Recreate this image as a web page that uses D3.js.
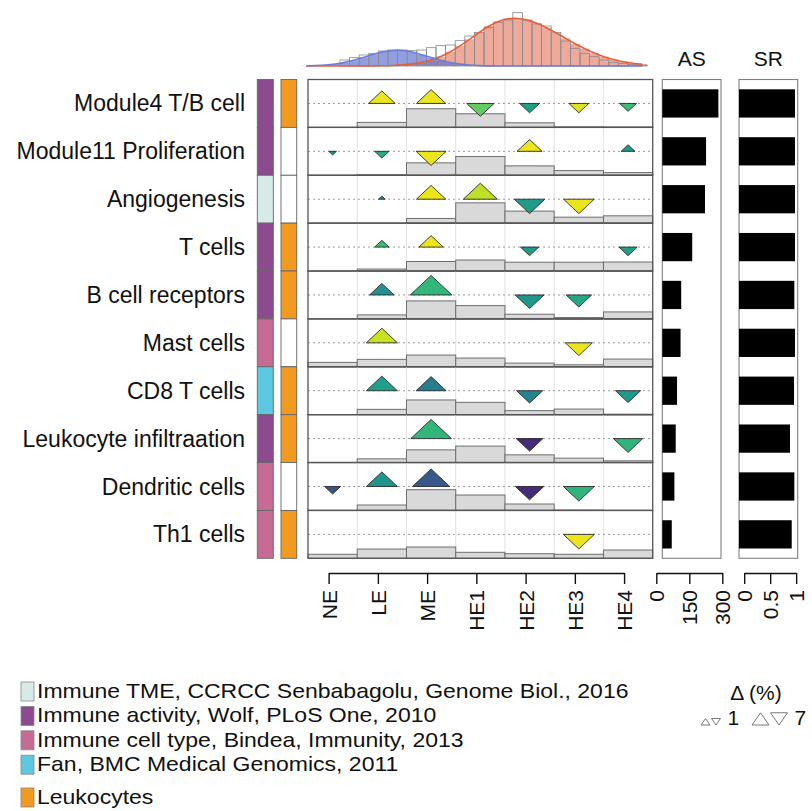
<!DOCTYPE html>
<html>
<head>
<meta charset="utf-8">
<script src="https://cdn.jsdelivr.net/npm/d3@7"></script>
<style>
  body { margin: 0; background: #fff; }
  svg text { font-family: "Liberation Sans", Arial, Helvetica, sans-serif; fill: #111; }
</style>
</head>
<body>
<svg id="chart" width="812" height="811"></svg>
<script>
// ---- data ----
const signatures = ["Module4 T/B cell", "Module11 Proliferation", "Angiogenesis", "T cells",
  "B cell receptors", "Mast cells", "CD8 T cells", "Leukocyte infiltraation", "Dendritic cells", "Th1 cells"];
const groups = ["NE", "LE", "ME", "HE1", "HE2", "HE3", "HE4"];
const sources = ["Immune TME, CCRCC Senbabagolu, Genome Biol., 2016", "Immune activity, Wolf, PLoS One, 2010",
  "Immune cell type, Bindea, Immunity, 2013", "Fan, BMC Medical Genomics, 2011"];
const signatureSource = [1, 1, 0, 1, 1, 2, 3, 1, 2, 2];
const leukocyte = [1, 0, 0, 1, 1, 0, 1, 1, 0, 1];
const leukocyteLabel = "Leukocytes";

// share of samples (%) falling in each group, per signature
const groupShare = [
  [0, 10.4, 38.9, 28.4, 9.6, 1.0, 0.6],
  [0, 1.0, 25.9, 39.1, 19.6, 9.8, 5.6],
  [0, 0, 9.8, 42.4, 25.1, 12.5, 15.3],
  [0, 4.2, 19.9, 23.0, 18.4, 18.4, 18.8],
  [0, 8.4, 37.6, 27.8, 9.8, 2.7, 14.6],
  [9.2, 15.5, 24.5, 18.2, 7.7, 4.2, 16.1],
  [0, 11.1, 30.7, 25.7, 8.4, 11.7, 1.0],
  [0, 7.7, 26.5, 34.3, 16.1, 9.2, 3.6],
  [0, 11.3, 43.3, 32.2, 13.4, 0.6, 0],
  [8.4, 19.4, 23.6, 12.5, 9.6, 8.4, 17.3]
];

// shifts: [signature, group, delta (%), colour score]
const shifts = [
  [0, "LE", 5.5, 0.97], [0, "ME", 6.7, 0.97], [0, "HE1", -5.8, 0.76], [0, "HE2", -3.1, 0.57], [0, "HE3", -3.1, 0.95], [0, "HE4", -2.2, 0.68],
  [1, "NE", -0.46, 0.55], [1, "LE", -1.6, 0.62], [1, "ME", -7.0, 0.97], [1, "HE2", 4.9, 0.97], [1, "HE4", 1.5, 0.55],
  [2, "LE", 0.35, 0.5], [2, "ME", 6.7, 0.97], [2, "HE1", 9.0, 0.9], [2, "HE2", -7.3, 0.55], [2, "HE3", -7.3, 0.97],
  [3, "LE", 1.6, 0.68], [3, "ME", 4.6, 0.97], [3, "HE2", -2.6, 0.55], [3, "HE4", -2.6, 0.57],
  [4, "LE", 4.7, 0.5], [4, "ME", 13.5, 0.66], [4, "HE2", -6.5, 0.53], [4, "HE3", -5.1, 0.6],
  [5, "LE", 7.5, 0.92], [5, "HE3", -5.7, 0.97],
  [6, "LE", 7.5, 0.56], [6, "ME", 7.0, 0.42], [6, "HE2", -5.3, 0.45], [6, "HE4", -4.9, 0.55],
  [7, "ME", 12.9, 0.66], [7, "HE2", -5.5, 0.12], [7, "HE4", -6.7, 0.65],
  [8, "NE", -2.0, 0.25], [8, "LE", 7.5, 0.52], [8, "ME", 10.8, 0.27], [8, "HE2", -6.3, 0.12], [8, "HE3", -7.5, 0.65],
  [9, "HE3", -7.5, 0.97]
];

const asScore = [255, 199, 194, 136, 86, 83, 67, 61, 55, 43];
const srScore = [0.978, 0.978, 0.978, 0.978, 0.965, 0.978, 0.959, 0.882, 0.965, 0.915];
const asTicks = [0, 150, 300];
const srTicks = [0, 0.5, 1];

// score histogram (first bin index -4) with two fitted components
const histFirstBin = -4;
const histCounts = [0, 0, 0, 0, 18, 25, 33, 38, 45, 48, 48, 46, 48, 55, 61, 63, 76, 90, 101, 115, 130, 138, 160, 138,
  126, 120, 101, 75, 53, 38, 28, 18, 10, 8, 5, 3];
const fitLow = [0.5, 1.3, 2.8, 5.7, 10.5, 17.4, 26.1, 35.4, 43.2, 47.4, 47.1, 42.3, 34.2, 25.2, 16.5, 9.9, 5.4, 2.6,
  1.1, 0.45, 0.2, 0.1, 0, 0, 0, 0, 0, 0, 0, 0, 0, 0, 0, 0, 0, 0];
const fitHigh = [0, 0, 0, 0.1, 0.15, 0.25, 0.3, 0.45, 0.75, 1.6, 3.2, 6, 10.5, 17.7, 28.2, 42.3, 60, 79.8, 100.8, 120,
  134.7, 142.8, 143.4, 138.3, 128.7, 115.2, 99.6, 82.8, 66.3, 51.3, 38.4, 27.6, 19.2, 12.6, 8.1, 5.1];

const deltaLegend = [1, 7];

// ---- styles ----
const sourceColours = ["#d6ebe7", "#8c4a8f", "#c56b94", "#5ec8e0"];
const leukoColour = "#f29a1f";

// ---- drawing ----
const svg = d3.select("#chart");

const x = d3.scaleBand().domain(groups).range([308, 652.7]);
const y = d3.scaleBand().domain(d3.range(signatures.length)).range([79.5, 558.3]);
const rowH = y.bandwidth();
const bw = x.bandwidth();
const shareH = d3.scaleLinear().domain([0, 100]).range([0, rowH]);
const triW = d3.scaleSqrt().domain([0, 7]).range([0, 30]);
const asX = d3.scaleLinear().domain([0, 300]).range([662.3, 728.3]);
const srX = d3.scaleLinear().domain([-0.1, 1.03]).range([739, 797.7]);

function triangle(cx, cy, w, h, up) {
  const s = up ? -1 : 1;
  return `M${cx - w / 2},${cy}L${cx + w / 2},${cy}L${cx},${cy + s * h}Z`;
}

// histogram on top
const hx = d3.scaleLinear().domain([-4, 32]).range([301.6, 647.2]);
const hy = d3.scaleLinear().domain([0, 165]).range([66, 11]);
const bins = histCounts.map((c, i) => ({ i: i + histFirstBin, c, lo: fitLow[i], hi: fitHigh[i] }));
const hist = svg.append("g");
hist.selectAll("rect.bg").data(bins.filter(d => d.c > 0)).join("rect")
  .attr("x", d => hx(d.i)).attr("width", d => hx(d.i + 1) - hx(d.i))
  .attr("y", d => hy(d.c)).attr("height", d => hy(0) - hy(d.c)).attr("fill", "#fff");
hist.selectAll("rect.hi").data(bins).join("rect")
  .attr("x", d => hx(d.i)).attr("width", d => hx(d.i + 1) - hx(d.i))
  .attr("y", d => hy(d.hi)).attr("height", d => hy(0) - hy(d.hi))
  .attr("fill", "rgb(226,118,92)").attr("fill-opacity", 0.62);
hist.selectAll("rect.lo").data(bins).join("rect")
  .attr("x", d => hx(d.i)).attr("width", d => hx(d.i + 1) - hx(d.i))
  .attr("y", d => hy(d.lo)).attr("height", d => hy(0) - hy(d.lo))
  .attr("fill", "rgb(95,112,208)").attr("fill-opacity", 0.68);
hist.selectAll("rect.outline").data(bins.filter(d => d.c > 0)).join("rect")
  .attr("x", d => hx(d.i)).attr("width", d => hx(d.i + 1) - hx(d.i))
  .attr("y", d => hy(d.c)).attr("height", d => hy(0) - hy(d.c))
  .attr("fill", "none").attr("stroke", "#8a8a8a").attr("stroke-width", 0.8);
const fitLine = key => d3.line().x(d => hx(d.i + 0.5)).y(d => hy(d[key])).curve(d3.curveBasis)(bins);
hist.append("path").attr("d", fitLine("hi")).attr("fill", "none").attr("stroke", "#e5603f").attr("stroke-width", 1.6);
hist.append("path").attr("d", fitLine("lo")).attr("fill", "none").attr("stroke", "#6b7fd6").attr("stroke-width", 1.6);

// row labels
svg.append("g").selectAll("text").data(signatures).join("text")
  .attr("x", 245).attr("y", (d, i) => y(i) + rowH / 2).attr("dy", "0.35em")
  .attr("text-anchor", "end").style("font-size", "23px").text(d => d);

// annotation strips
const strips = svg.append("g");
strips.selectAll("rect.src").data(signatureSource).join("rect")
  .attr("x", 257.3).attr("width", 16).attr("y", (d, i) => y(i)).attr("height", rowH)
  .attr("fill", d => sourceColours[d]).attr("stroke", "#666").attr("stroke-width", 0.9);
strips.selectAll("rect.leu").data(leukocyte).join("rect")
  .attr("x", 281).attr("width", 15.7).attr("y", (d, i) => y(i)).attr("height", rowH)
  .attr("fill", d => d ? leukoColour : "#fff").attr("stroke", "#666").attr("stroke-width", 0.9);

// main panel rows
const rows = svg.append("g").selectAll("g").data(signatures).join("g")
  .attr("transform", (d, i) => `translate(0,${y(i)})`);
rows.selectAll("line.grid").data(groups.slice(1)).join("line")
  .attr("x1", g => x(g)).attr("x2", g => x(g)).attr("y1", 0).attr("y2", rowH)
  .attr("stroke", "#e2e2e2").attr("stroke-width", 1);
rows.selectAll("rect.share").data((d, i) => groupShare[i].map((v, j) => ({ g: groups[j], v }))).join("rect")
  .attr("x", d => x(d.g)).attr("width", bw)
  .attr("y", d => rowH - shareH(d.v)).attr("height", d => shareH(d.v))
  .attr("fill", "#d9d9d9").attr("stroke", "#6e6e6e").attr("stroke-width", 1);
rows.append("line").attr("x1", x.range()[0]).attr("x2", x.range()[1])
  .attr("y1", rowH / 2).attr("y2", rowH / 2)
  .attr("stroke", "#9a9a9a").attr("stroke-width", 1).attr("stroke-dasharray", "2,3");
rows.selectAll("path.shift").data((d, i) => shifts.filter(s => s[0] === i)).join("path")
  .attr("d", s => {
    const w = triW(Math.abs(s[2]));
    return triangle(x(s[1]) + bw / 2, rowH / 2, w, w * 0.47, s[2] > 0);
  })
  .attr("fill", s => d3.interpolateViridis(s[3]))
  .attr("stroke", "#2a2a2a").attr("stroke-width", 0.9).attr("stroke-linejoin", "round");
rows.append("rect").attr("x", x.range()[0]).attr("width", x.range()[1] - x.range()[0])
  .attr("y", 0).attr("height", rowH).attr("fill", "none").attr("stroke", "#555").attr("stroke-width", 1.3);

// AS and SR bar panels
function barPanel(scale, values, left, right, title) {
  const g = svg.append("g");
  g.append("rect").attr("x", left).attr("width", right - left).attr("y", y.range()[0])
    .attr("height", y.range()[1] - y.range()[0]).attr("fill", "#fff").attr("stroke", "#808080").attr("stroke-width", 1.1);
  g.selectAll("rect.bar").data(values).join("rect")
    .attr("x", left).attr("width", v => scale(v) - left)
    .attr("y", (v, i) => y(i) + rowH / 2 - rowH * 0.295).attr("height", rowH * 0.59)
    .attr("fill", "#000");
  g.append("text").attr("x", (left + right) / 2).attr("y", 66).attr("text-anchor", "middle")
    .style("font-size", "21px").text(title);
}
barPanel(asX, asScore, asX(0), 721, "AS");
barPanel(srX, srScore, srX(srX.domain()[0]), 797.7, "SR");

// axes
function styleAxis(g) {
  g.select(".domain").attr("stroke", "#111").attr("stroke-width", 1.4);
  g.selectAll(".tick line").attr("stroke", "#111").attr("stroke-width", 1.4);
  g.selectAll(".tick text")
    .attr("transform", "rotate(-90)").attr("x", -17).attr("y", 0).attr("dy", "0.36em")
    .style("text-anchor", "end").style("font-size", "21px")
    .style("font-family", "'Liberation Sans', Arial, sans-serif").attr("fill", "#111");
}
const groupAxis = d3.scalePoint().domain(groups).range([x("NE") + bw / 2 - 4, x("HE4") + bw / 2 - 4]);
svg.append("g").attr("transform", "translate(0,573)")
  .call(d3.axisBottom(groupAxis).tickSize(11).tickSizeOuter(0)).call(styleAxis);
const asAxis = d3.scaleLinear().domain([0, 300]).range([asX(0) - 6, asX(300) - 6]);
svg.append("g").attr("transform", "translate(0,573)")
  .call(d3.axisBottom(asAxis).tickValues(asTicks).tickFormat(d3.format("d")).tickSize(11).tickSizeOuter(0)).call(styleAxis);
const srAxis = d3.scaleLinear().domain([0, 1]).range([srX(0), srX(1)]);
svg.append("g").attr("transform", "translate(0,573)")
  .call(d3.axisBottom(srAxis).tickValues(srTicks).tickFormat(d => String(d)).tickSize(11).tickSizeOuter(0)).call(styleAxis);
svg.selectAll(".tick text").attr("font-size", null);

// source legend: 21px type widened to the printed line length
const legend = svg.append("g");
function legendLabel(text, by) {
  const t = legend.append("text").attr("x", 37).attr("y", by).style("font-size", "21px").text(text);
  const natural = t.node().getComputedTextLength();
  t.attr("textLength", natural * 23 / 21).attr("lengthAdjust", "spacingAndGlyphs");
}
sources.forEach((s, k) => {
  const by = 698 + 24.4 * k;
  legend.append("rect").attr("x", 21).attr("y", by - 16).attr("width", 13).attr("height", 19)
    .attr("fill", sourceColours[k]).attr("stroke", "#888").attr("stroke-width", 0.8);
  legendLabel(s, by);
});
legend.append("rect").attr("x", 21).attr("y", 788).attr("width", 13).attr("height", 19)
  .attr("fill", leukoColour).attr("stroke", "#888").attr("stroke-width", 0.8);
legendLabel(leukocyteLabel, 804);

// delta legend
const dl = svg.append("g");
dl.append("text").attr("x", 756).attr("y", 700).attr("text-anchor", "middle").style("font-size", "21px").text("Δ (%)");
const legW = d3.scaleLinear().domain([1, 7]).range([9, 17]);
const legStart = [701, 752];
deltaLegend.forEach((v, k) => {
  const w = legW(v), h = w * 0.72, base = 725;
  const cx = legStart[k] + w / 2;
  dl.append("path").attr("d", `M${cx - w / 2},${base}L${cx + w / 2},${base}L${cx},${base - h}Z`)
    .attr("fill", "#fff").attr("stroke", "#777").attr("stroke-width", 1);
  const cx2 = cx + w + 1.5;
  dl.append("path").attr("d", `M${cx2 - w / 2},${base - h}L${cx2 + w / 2},${base - h}L${cx2},${base}Z`)
    .attr("fill", "#fff").attr("stroke", "#777").attr("stroke-width", 1);
  dl.append("text").attr("x", cx2 + w / 2 + 7).attr("y", base).style("font-size", "21px").text(v);
});
</script>
</body>
</html>
